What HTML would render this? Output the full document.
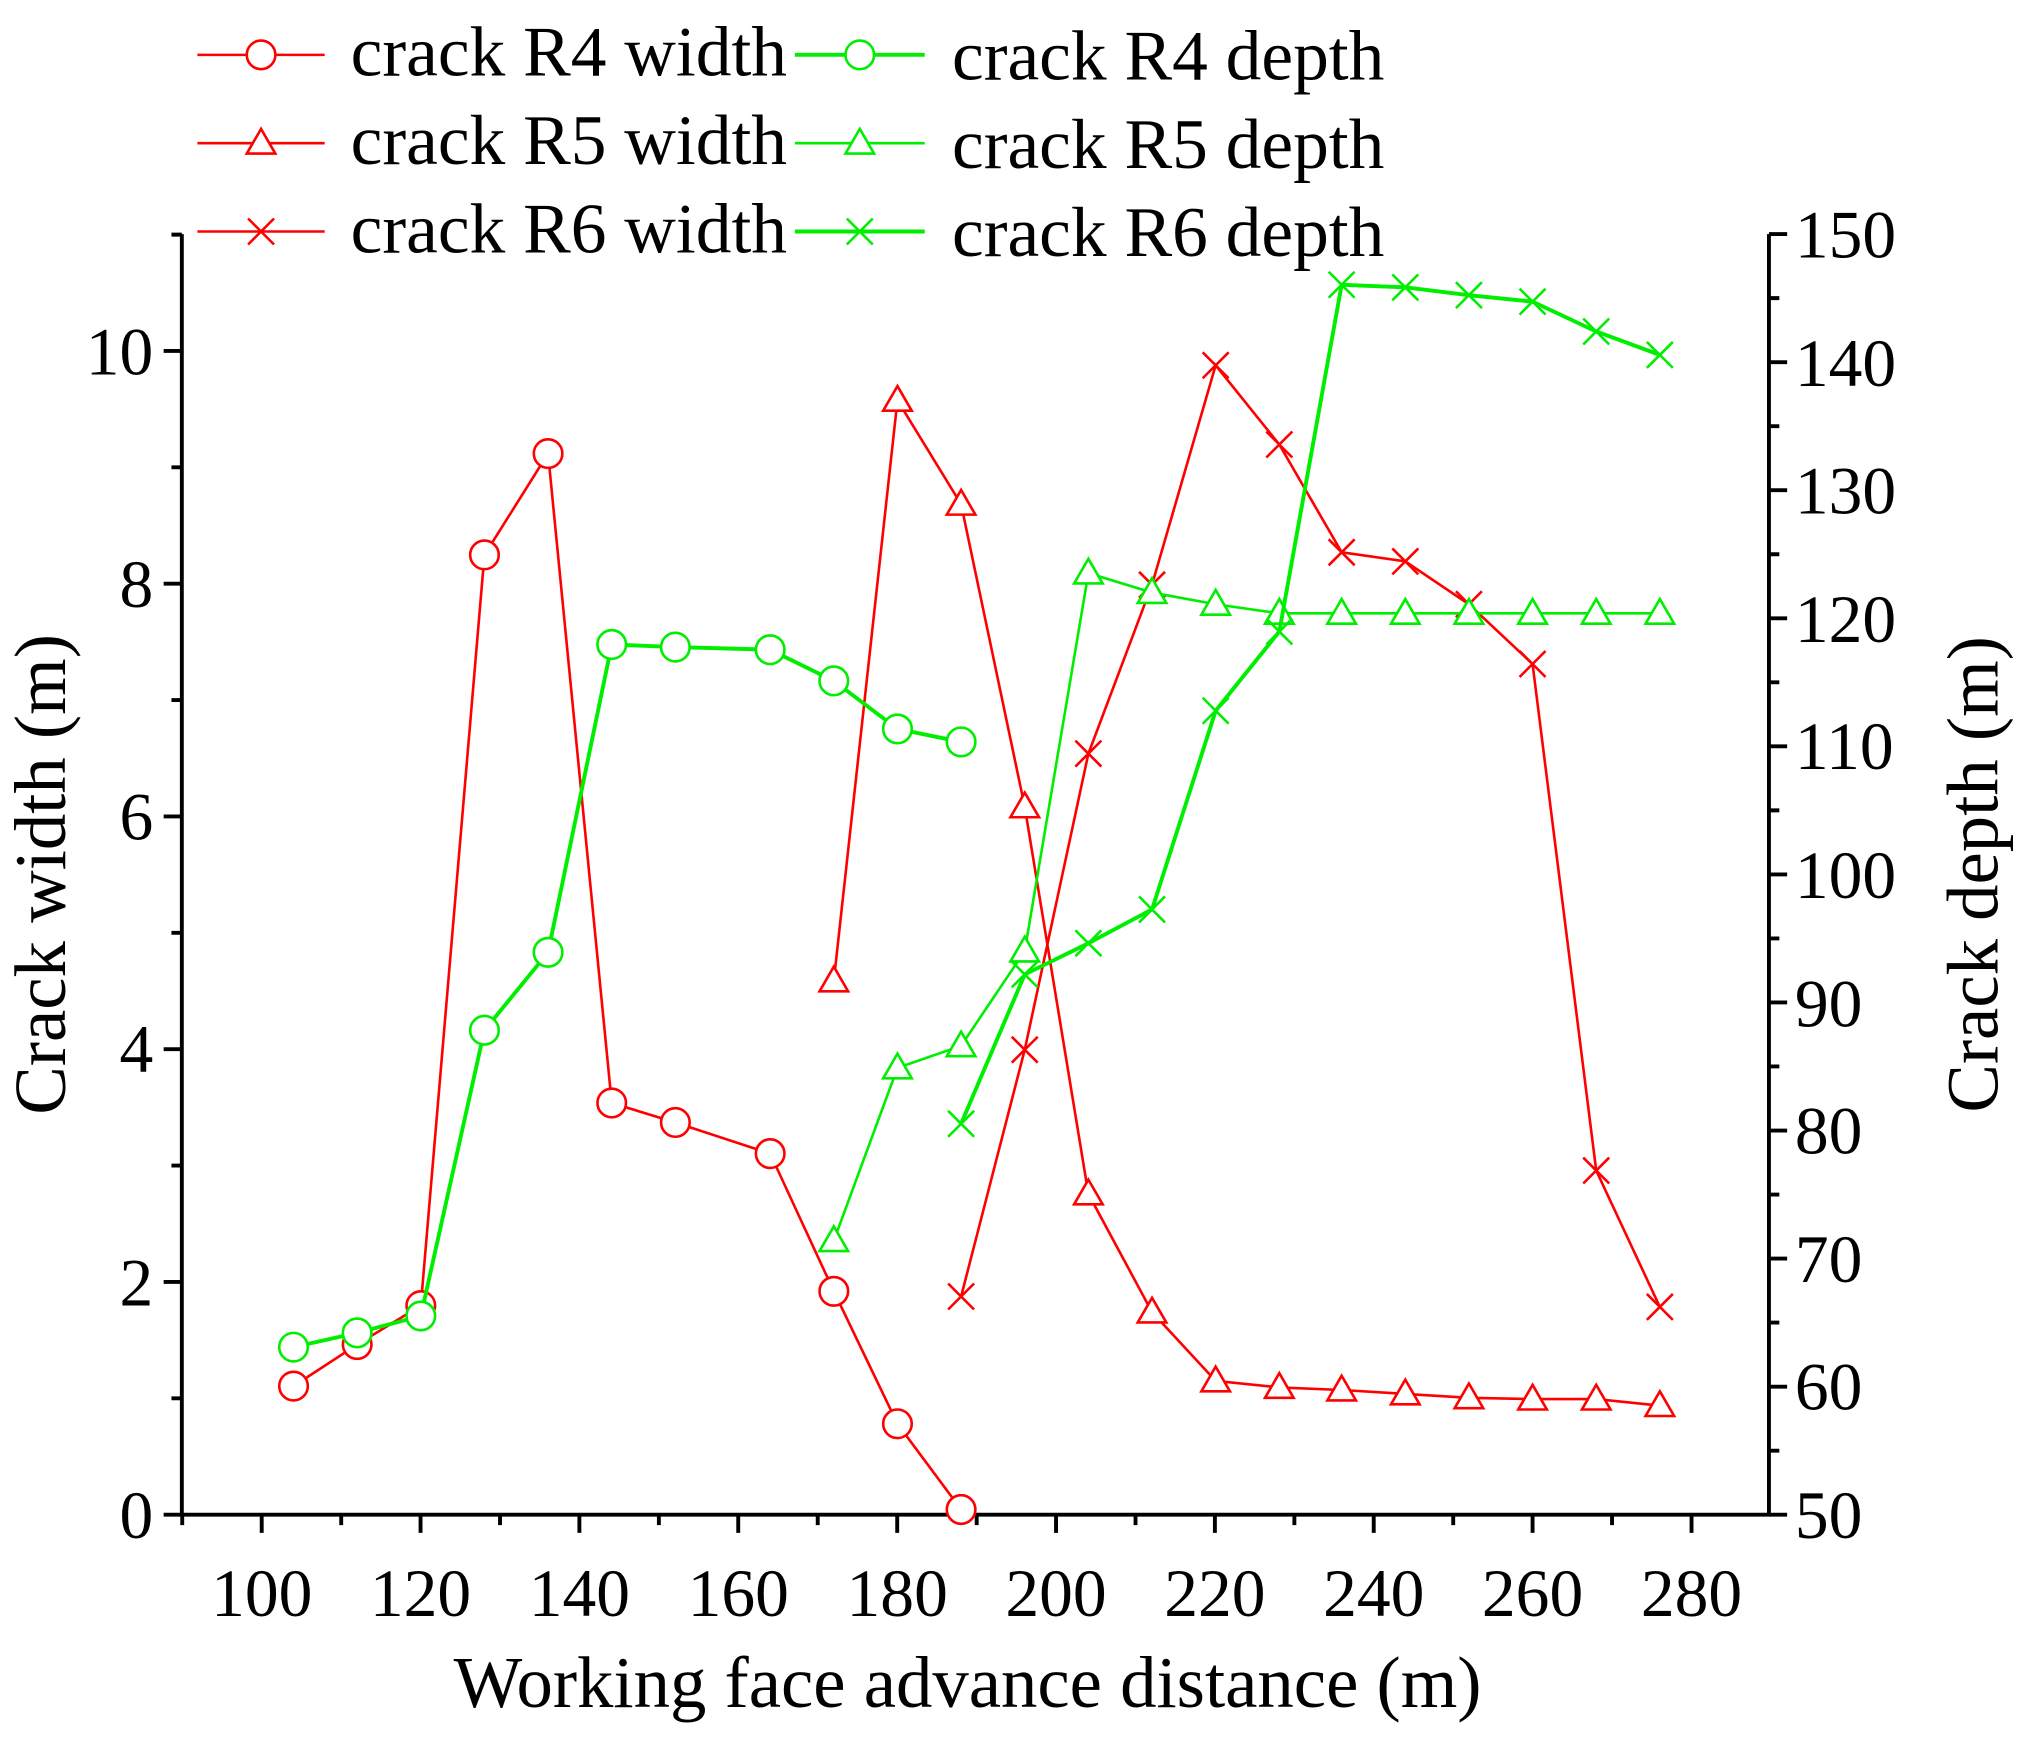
<!DOCTYPE html>
<html><head><meta charset="utf-8"><style>html,body{margin:0;padding:0;background:#fff}svg{display:block}</style></head>
<body>
<svg width="2030" height="1741" viewBox="0 0 1563 1340" xmlns="http://www.w3.org/2000/svg" font-family="'Liberation Serif', serif">
<defs>
<marker id="rc" markerUnits="userSpaceOnUse" markerWidth="30" markerHeight="30" refX="15" refY="15" overflow="visible"><circle cx="15" cy="15" r="11" fill="#fff" stroke="#f00" stroke-width="2"/></marker>
<marker id="rt" markerUnits="userSpaceOnUse" markerWidth="30" markerHeight="30" refX="15" refY="15" overflow="visible"><polygon points="15,4 26,23 4,23" fill="#fff" stroke="#f00" stroke-width="2"/></marker>
<marker id="rx" markerUnits="userSpaceOnUse" markerWidth="30" markerHeight="30" refX="15" refY="15" overflow="visible"><path d="M5,5L25,25M25,5L5,25" stroke="#f00" stroke-width="2"/></marker>
<marker id="gc" markerUnits="userSpaceOnUse" markerWidth="30" markerHeight="30" refX="15" refY="15" overflow="visible"><circle cx="15" cy="15" r="11" fill="#fff" stroke="#0e0" stroke-width="2"/></marker>
<marker id="gt" markerUnits="userSpaceOnUse" markerWidth="30" markerHeight="30" refX="15" refY="15" overflow="visible"><polygon points="15,4 26,23 4,23" fill="#fff" stroke="#0e0" stroke-width="2"/></marker>
<marker id="gx" markerUnits="userSpaceOnUse" markerWidth="30" markerHeight="30" refX="15" refY="15" overflow="visible"><path d="M5,5L25,25M25,5L5,25" stroke="#0e0" stroke-width="2"/></marker>
</defs>
<g stroke="#000" stroke-width="3" fill="none">
<path d="M140,180V1166H1362V180"/>
<path d="M140,1166h-14M140,1076.4h-8M140,986.8h-14M140,897.2h-8M140,807.6h-14M140,718h-8M140,628.4h-14M140,538.8h-8M140,449.2h-14M140,359.6h-8M140,270h-14M140,180.4h-8"/>
<path d="M1362,1166h14M1362,1116.7h8M1362,1067.4h14M1362,1018.1h8M1362,968.8h14M1362,919.5h8M1362,870.2h14M1362,820.9h8M1362,771.6h14M1362,722.3h8M1362,673h14M1362,623.7h8M1362,574.4h14M1362,525.1h8M1362,475.8h14M1362,426.5h8M1362,377.2h14M1362,327.9h8M1362,278.6h14M1362,229.3h8M1362,180h14"/>
<path d="M201.5,1166v14M323.8,1166v14M446.1,1166v14M568.4,1166v14M690.8,1166v14M813.1,1166v14M935.4,1166v14M1057.7,1166v14M1180,1166v14M1302.4,1166v14M140.3,1166v8M262.7,1166v8M385,1166v8M507.3,1166v8M629.6,1166v8M752,1166v8M874.3,1166v8M996.6,1166v8M1118.9,1166v8M1241.2,1166v8"/>
</g>
<g font-size="52" fill="#000" text-anchor="end">
<text x="118" y="1184">0</text><text x="118" y="1005">2</text><text x="118" y="825">4</text><text x="118" y="646">6</text><text x="118" y="467">8</text><text x="118" y="288">10</text>
</g>
<g font-size="52" fill="#000" text-anchor="start">
<text x="1382" y="1184">50</text><text x="1382" y="1085">60</text><text x="1382" y="987">70</text><text x="1382" y="888">80</text><text x="1382" y="790">90</text><text x="1382" y="691">100</text><text x="1382" y="592">110</text><text x="1382" y="494">120</text><text x="1382" y="395">130</text><text x="1382" y="297">140</text><text x="1382" y="198">150</text>
</g>
<g font-size="52" fill="#000" text-anchor="middle">
<text x="201.5" y="1244">100</text><text x="323.8" y="1244">120</text><text x="446.1" y="1244">140</text><text x="568.4" y="1244">160</text><text x="690.8" y="1244">180</text><text x="813.1" y="1244">200</text><text x="935.4" y="1244">220</text><text x="1057.7" y="1244">240</text><text x="1180" y="1244">260</text><text x="1302.4" y="1244">280</text>
</g>
<text x="745" y="1314" font-size="56" text-anchor="middle">Working face advance distance (m)</text>
<text transform="translate(50,673) rotate(-90)" font-size="56" text-anchor="middle">Crack width (m)</text>
<text transform="translate(1538,673) rotate(-90)" font-size="56" text-anchor="middle">Crack depth (m)</text>
<g fill="none" stroke-width="2">
<polyline stroke="#f00" marker-start="url(#rc)" marker-mid="url(#rc)" marker-end="url(#rc)" points="226,1067 275,1035 324,1005 373,427 422,349 471,849 520,864 593,888 642,994 691,1096 740,1162"/>
<polyline stroke="#f00" marker-start="url(#rt)" marker-mid="url(#rt)" marker-end="url(#rt)" points="642,755 691,308 740,388 789,621 838,919 887,1010 936,1063 985,1068 1033,1070 1082,1073 1131,1076 1180,1077 1229,1077 1278,1082"/>
<polyline stroke="#f00" marker-start="url(#rx)" marker-mid="url(#rx)" marker-end="url(#rx)" points="740,998 789,808 838,580 887,450 936,281 985,342 1033,425 1082,432 1131,465 1180,511 1229,901 1278,1006"/>
<polyline stroke="#0e0" stroke-width="3" marker-start="url(#gc)" marker-mid="url(#gc)" marker-end="url(#gc)" points="226,1037 275,1026 324,1013 373,793 422,733 471,496 520,498 593,500 642,524 691,561 740,571"/>
<polyline stroke="#0e0" marker-start="url(#gt)" marker-mid="url(#gt)" marker-end="url(#gt)" points="642,955 691,822 740,805 789,732 838,441 887,456 936,465 985,472 1033,472 1082,472 1131,472 1180,472 1229,472 1278,472"/>
<polyline stroke="#0e0" stroke-width="3" marker-start="url(#gx)" marker-mid="url(#gx)" marker-end="url(#gx)" points="740,865 789,750 838,726 887,700 936,547 985,486 1033,219 1082,221 1131,227 1180,232 1229,255 1278,273"/>
<polyline stroke="#f00" marker-mid="url(#rc)" points="152,42 201,42 250,42"/>
<polyline stroke="#f00" marker-mid="url(#rt)" points="152,110 201,110 250,110"/>
<polyline stroke="#f00" marker-mid="url(#rx)" points="152,178 201,178 250,178"/>
<polyline stroke="#0e0" stroke-width="3" marker-mid="url(#gc)" points="612,42 662,42 712,42"/>
<polyline stroke="#0e0" marker-mid="url(#gt)" points="612,110 662,110 712,110"/>
<polyline stroke="#0e0" stroke-width="3" marker-mid="url(#gx)" points="612,178 662,178 712,178"/>
</g>
<g font-size="55" fill="#000">
<text x="270" y="58">crack R4 width</text><text x="270" y="126">crack R5 width</text><text x="270" y="194">crack R6 width</text>
<text x="733" y="61">crack R4 depth</text><text x="733" y="129">crack R5 depth</text><text x="733" y="197">crack R6 depth</text>
</g>
</svg>
</body></html>
